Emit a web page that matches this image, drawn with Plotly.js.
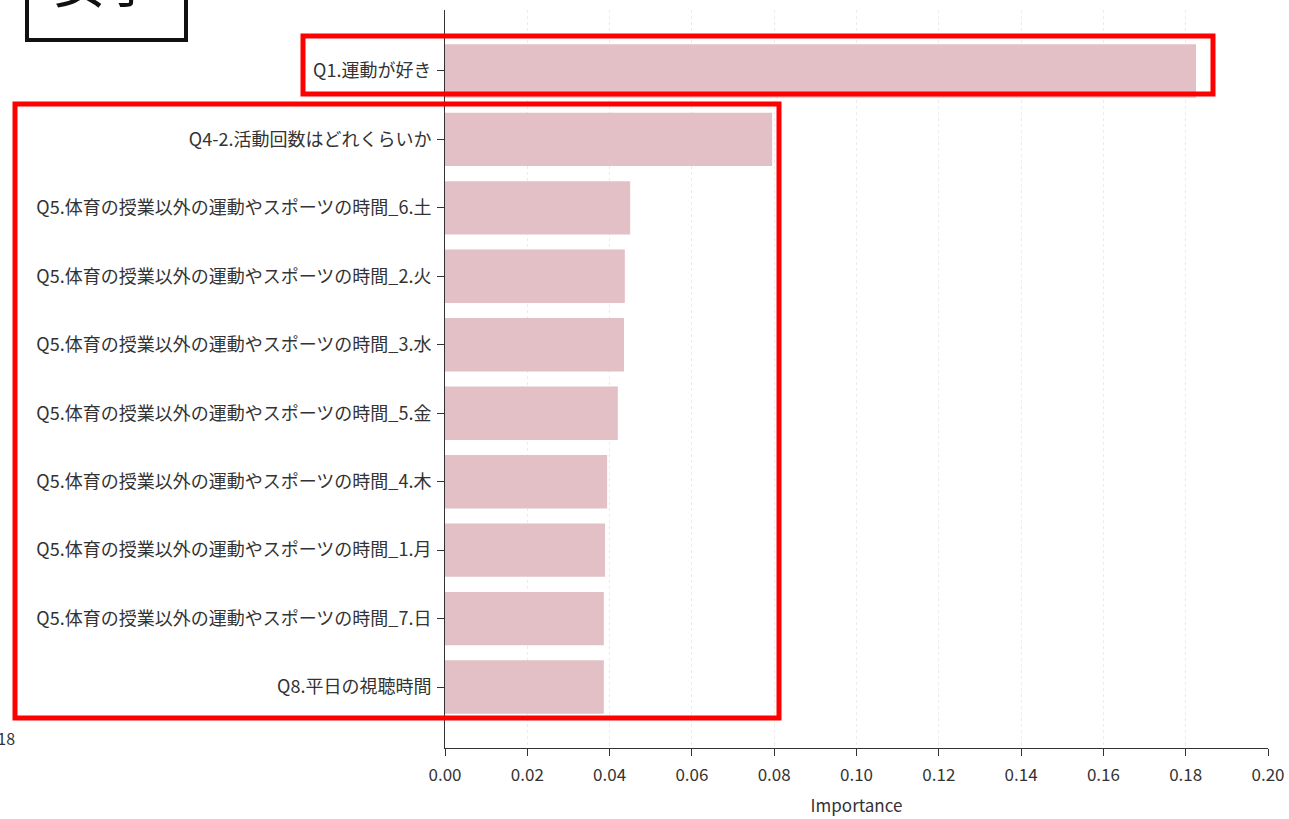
<!DOCTYPE html>
<html>
<head>
<meta charset="utf-8">
<script src="https://cdn.plot.ly/plotly-3.0.1.min.js"></script>
<style>html,body{margin:0;padding:0;background:#fff;}#chart{width:1289px;height:819px;}</style>
</head>
<body>
<div id="chart"></div>
<script>
const categories = [
  "Q1.運動が好き",
  "Q4-2.活動回数はどれくらいか",
  "Q5.体育の授業以外の運動やスポーツの時間_6.土",
  "Q5.体育の授業以外の運動やスポーツの時間_2.火",
  "Q5.体育の授業以外の運動やスポーツの時間_3.水",
  "Q5.体育の授業以外の運動やスポーツの時間_5.金",
  "Q5.体育の授業以外の運動やスポーツの時間_4.木",
  "Q5.体育の授業以外の運動やスポーツの時間_1.月",
  "Q5.体育の授業以外の運動やスポーツの時間_7.日",
  "Q8.平日の視聴時間"
];
const importance = [0.1825, 0.0795, 0.0450, 0.0437, 0.0435, 0.0420, 0.0394, 0.0389, 0.0386, 0.0386];
const xTickVals = [0, 0.02, 0.04, 0.06, 0.08, 0.10, 0.12, 0.14, 0.16, 0.18, 0.20];
const xTickText = ["0.00","0.02","0.04","0.06","0.08","0.10","0.12","0.14","0.16","0.18","0.20"];
const xTitle = "Importance";
const boxLabel = "女子";
const cutLabel = "0.18";

const W = 1289, H = 819, L = 445, R = 21, T = 10, B = 71;
const pw = W - L - R, ph = H - T - B;
const px = v => (v - L) / pw;
const py = v => (H - B - v) / ph;

const trace = {
  type: 'bar', orientation: 'h',
  x: importance, y: categories,
  marker: {color: '#e2c0c5', line: {width: 0}},
  width: 0.78,
  hoverinfo: 'x+y'
};

const font = {family: '"Noto Sans CJK JP", "Noto Sans", sans-serif', color: '#333'};

const layout = {
  width: W, height: H,
  margin: {l: L, r: R, t: T, b: B, pad: 0},
  paper_bgcolor: '#fff', plot_bgcolor: '#fff',
  showlegend: false,
  xaxis: {
    range: [0, 0.2], tickvals: xTickVals, ticktext: xTickText,
    showgrid: true, gridcolor: '#ebebeb', griddash: 'dot', gridwidth: 1,
    zeroline: false, showline: true, linecolor: '#333', linewidth: 1,
    ticks: 'outside', ticklen: 7, tickcolor: '#333',
    ticklabelstandoff: 5,
    tickfont: Object.assign({size: 17}, font),
    title: {text: xTitle, font: Object.assign({size: 17}, font), standoff: 14}
  },
  yaxis: {
    type: 'category', categoryorder: 'array', categoryarray: categories,
    range: [9.89, -0.89],
    showgrid: false, zeroline: false, showline: true, linecolor: '#333', linewidth: 1,
    ticks: 'outside', ticklen: 7, tickcolor: '#333',
    ticklabelstandoff: 2,
    tickfont: Object.assign({size: 18}, font)
  },
  shapes: [
    {type: 'rect', xref: 'paper', yref: 'paper', x0: px(303), x1: px(1213), y0: py(94), y1: py(36), line: {color: '#ff0000', width: 5}},
    {type: 'rect', xref: 'paper', yref: 'paper', x0: px(15), x1: px(779), y0: py(718), y1: py(104), line: {color: '#ff0000', width: 5}},
    {type: 'rect', xref: 'paper', yref: 'paper', x0: px(27), x1: px(186), y0: py(40), y1: py(-60), line: {color: '#111', width: 4}}
  ],
  annotations: [
    {xref: 'paper', yref: 'paper', x: px(105), y: py(20), xanchor: 'center', yanchor: 'bottom', text: boxLabel, showarrow: false, font: {family: '"Noto Sans CJK JP", sans-serif', size: 52, color: '#111'}},
    {xref: 'paper', yref: 'paper', x: px(17), y: py(738), xanchor: 'right', yanchor: 'middle', text: cutLabel, showarrow: false, font: Object.assign({size: 16}, font)}
  ]
};

Plotly.newPlot('chart', [trace], layout, {displayModeBar: false, staticPlot: true});
</script>
</body>
</html>
